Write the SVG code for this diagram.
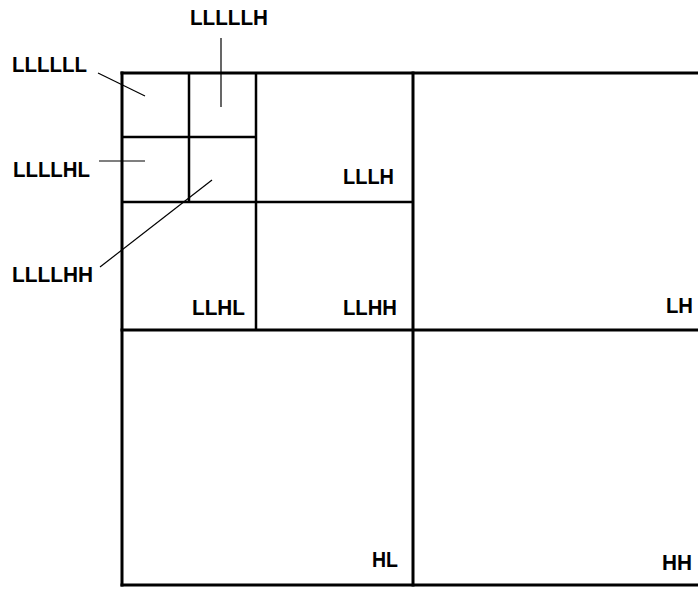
<svg xmlns="http://www.w3.org/2000/svg" width="698" height="590" viewBox="0 0 698 590">
<style>
.b{stroke:#000;stroke-width:3;fill:none;stroke-linecap:square}
.t{stroke:#000;stroke-width:2.5;fill:none}
.l{stroke:#000;stroke-width:1.2;fill:none}
text{font-family:"Liberation Sans",Arial,sans-serif;font-weight:bold;font-size:22px;fill:#000}
</style>
<rect width="698" height="590" fill="#fff"/>
<g id="grid">
<line class="b" x1="122" y1="73" x2="700" y2="73"/>
<line class="b" x1="122" y1="73" x2="122" y2="585"/>
<line class="b" x1="122" y1="585" x2="700" y2="585"/>
<line class="b" x1="413" y1="73" x2="413" y2="585"/>
<line class="b" x1="122" y1="330" x2="700" y2="330"/>
<line class="t" x1="256" y1="73" x2="256" y2="330"/>
<line class="t" x1="122" y1="202" x2="413" y2="202"/>
<line class="t" x1="189" y1="73" x2="189" y2="202"/>
<line class="t" x1="122" y1="137" x2="256" y2="137"/>
</g>
<g id="connectors">
<line class="l" x1="98" y1="73" x2="145" y2="96"/>
<line class="l" x1="221" y1="38" x2="221" y2="107"/>
<line class="l" x1="99" y1="161" x2="145" y2="161"/>
<line class="l" x1="100" y1="267" x2="212" y2="180"/>
</g>
<g id="n-LLLLLL"><text x="12" y="72" textLength="75" lengthAdjust="spacingAndGlyphs">LLLLLL</text></g>
<g id="n-LLLLLH"><text x="190" y="25" textLength="78" lengthAdjust="spacingAndGlyphs">LLLLLH</text></g>
<g id="n-LLLLHL"><text x="13" y="177" textLength="77" lengthAdjust="spacingAndGlyphs">LLLLHL</text></g>
<g id="n-LLLLHH"><text x="12" y="282" textLength="81" lengthAdjust="spacingAndGlyphs">LLLLHH</text></g>
<g id="n-LLLH"><text x="343" y="184" textLength="51" lengthAdjust="spacingAndGlyphs">LLLH</text></g>
<g id="n-LLHL"><text x="192" y="315" textLength="53" lengthAdjust="spacingAndGlyphs">LLHL</text></g>
<g id="n-LLHH"><text x="343" y="315" textLength="54" lengthAdjust="spacingAndGlyphs">LLHH</text></g>
<g id="n-LH"><text x="666" y="313" textLength="27" lengthAdjust="spacingAndGlyphs">LH</text></g>
<g id="n-HL"><text x="372" y="567" textLength="26" lengthAdjust="spacingAndGlyphs">HL</text></g>
<g id="n-HH"><text x="662" y="570" textLength="30" lengthAdjust="spacingAndGlyphs">HH</text></g>
</svg>
